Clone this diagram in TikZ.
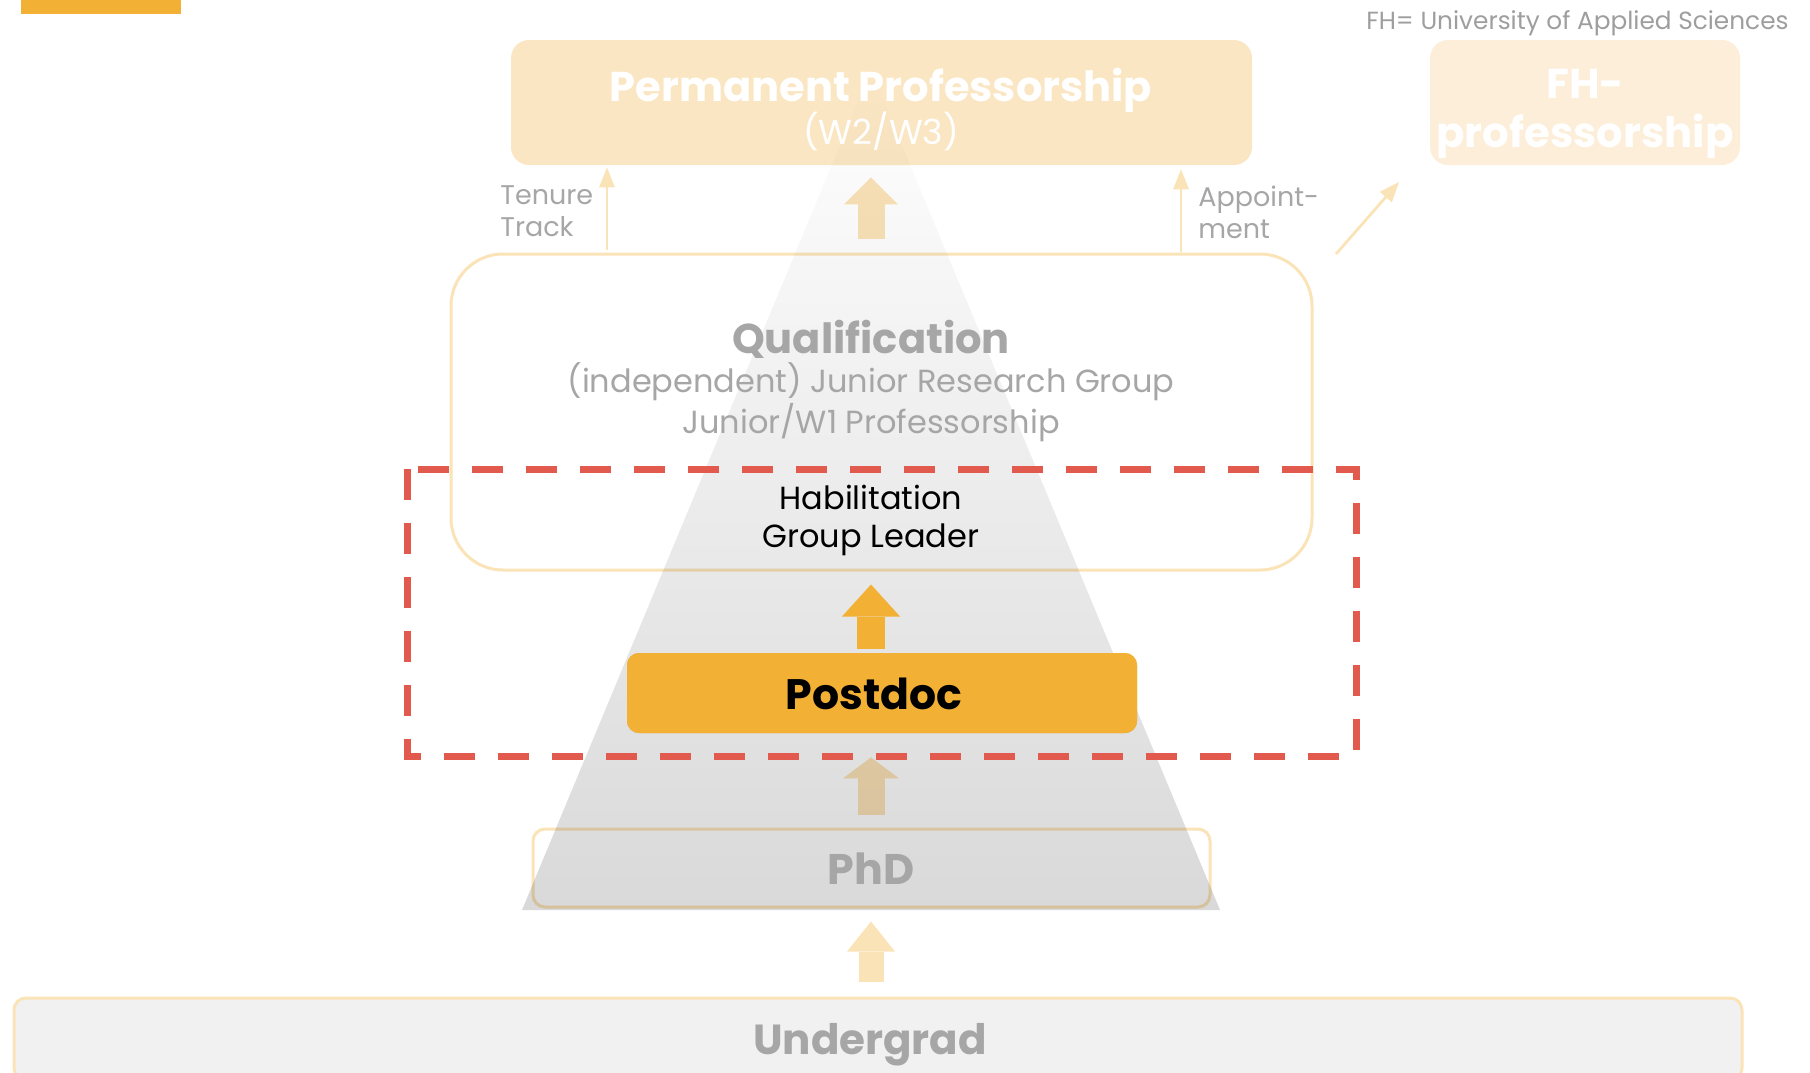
\documentclass[tikz,border=0pt]{standalone}
\usepackage{fontspec}
\setmainfont{Poppins}
\usetikzlibrary{positioning}
\usetikzlibrary{arrows.meta}

\definecolor{barorange}{HTML}{F2B134}
\definecolor{profpale}{HTML}{FBE6C4}
\definecolor{fhpale}{HTML}{FCEED8}
\definecolor{edgepale}{HTML}{FBE3B8}
\definecolor{labelgray}{HTML}{A6A6A6}
\definecolor{notegray}{HTML}{9E9E9E}
\definecolor{pyramidgray}{HTML}{D9D9D9}
\definecolor{framered}{HTML}{E25A4D}
\definecolor{ugfill}{HTML}{F1F1F1}

\begin{document}
\begin{tikzpicture}[x=0.5pt,y=-0.5pt,
	every node/.style={inner sep=0pt},
	prof box/.style={rounded corners=9pt,fill=profpale,minimum height=62.5pt},
	fh box/.style={rounded corners=9pt,fill=fhpale,minimum height=62.5pt},
	qual box/.style={rounded corners=26pt,draw=edgepale,line width=1.5pt},
	stage box/.style={rounded corners=6pt,draw=edgepale,line width=1.5pt},
	post box/.style={rounded corners=6pt,fill=barorange},
	big arrow/.style={color=edgepale,line width=13.5pt,-{Triangle[width=27pt,length=13.5pt,line width=0pt]}},
	thin arrow/.style={color=edgepale,line width=1.4pt,-{Triangle[width=8pt,length=10pt,line width=0pt]}},
	head text/.style={font=\bfseries\fontsize{20.8}{24}\selectfont},
	sub text/.style={font=\fontsize{16}{19}\selectfont,align=center},
	side text/.style={font=\fontsize{13.5}{16}\selectfont,text=labelgray,align=left,anchor=west}]
	\useasboundingbox (0,0) rectangle (1810,1072);
	
	\fill[barorange] (21,0) rectangle (181,14);
	\coordinate (axis) at (871,0);
	
	% boxes
	\node[prof box,minimum width=370.5pt] (perm) at (881.5,102.5) {};
	\node[fh box,minimum width=155pt] (fh) at (1585,102.5) {};
	\node[qual box,minimum width=430.5pt,minimum height=158pt] (qual) at (881.5,412) {};
	\node[stage box,minimum width=338.5pt,minimum height=39pt] (phd) at (871.5,868) {};
	\node[stage box,fill=ugfill,minimum width=864pt,minimum height=41pt] (ug) at (878,1039) {};
	\node[post box,minimum width=255pt,minimum height=40pt] (postdoc) at (882,693) {};
	
	\draw[big arrow,shorten <=7pt,shorten >=6pt] (qual.north -| axis) -- (perm.south -| axis);
	\draw[big arrow,-{Triangle[width=28pt,length=10.5pt,line width=0pt]},shorten <=6.5pt,shorten >=12pt] (phd.north -| axis) -- (postdoc.south -| axis);
	\draw[big arrow,line width=12.5pt,-{Triangle[width=24pt,length=15pt,line width=0pt]},shorten <=7.5pt,shorten >=6.5pt] (ug.north -| axis) -- (phd.south -| axis);
	
	\coordinate (tenure foot) at (607,250);
	\coordinate (appoint foot) at (1181,252);
	\coordinate (fh foot) at (1336,254);
	\coordinate (fh tip) at (1399,182);
	\draw[thin arrow] (tenure foot) -- ([yshift=-1pt]tenure foot |- perm.south);
	\draw[thin arrow] (appoint foot) -- ([yshift=-2pt]appoint foot |- perm.south);
	\draw[thin arrow] (fh foot) -- (fh tip);
	
	% pyramid
	\begin{scope}[blend mode=multiply]
		\shade[top color=white,bottom color=pyramidgray] (871,71) -- (1220,910) -- (522,910) -- cycle;
	\end{scope}
	
	\node[post box,minimum width=255pt,minimum height=40pt] at (postdoc) {};
	\draw[big arrow,color=barorange,line width=14pt,-{Triangle[width=29pt,length=16pt,line width=0pt]},shorten <=2pt,shorten >=6.5pt] (postdoc.north -| axis) -- (qual.south -| axis);
	
	\draw[framered,line width=3.5pt,dash pattern=on 15.5pt off 11.5pt] (407,469) rectangle (1356,756);
	
	% texts
	\node[head text,text=white] (perm title) at (881,90.5) {Permanent Professorship};
	\node[font=\fontsize{17.3}{20}\selectfont,text=white] (perm sub) at (881,131) {(W2/W3)};
	\node[text=white,align=center,font=\bfseries\fontsize{20.9}{24.3}\selectfont] (fh title) at (1585,114) {FH-\\professorship};
	\node[font=\fontsize{12.4}{14}\selectfont,text=notegray,anchor=east] (fh note) at (1789,23) {FH= University of Applied Sciences};
	\node[side text] (tenure) at (500,211) {Tenure\\Track};
	\node[side text] (appoint) at (1198,212) {Appoint-\\ment};
	\node[head text,text=labelgray] (qual title) at (871,339) {Qualification};
	\node[sub text,text=labelgray] (qual sub) at (871,402) {(independent) Junior Research Group\\Junior/W1 Professorship};
	\node[sub text,text=black] (habil) at (871,520) {Habilitation\\Group Leader};
	\node[font=\bfseries\fontsize{21.3}{24}\selectfont] (postdoc title) at (874,694) {Postdoc};
	\node[font=\bfseries\fontsize{21.4}{24}\selectfont,text=labelgray] (phd title) at (871,869) {PhD};
	\node[font=\bfseries\fontsize{21}{24}\selectfont,text=labelgray] (ug title) at (870,1045) {Undergrad};
\end{tikzpicture}
\end{document}
